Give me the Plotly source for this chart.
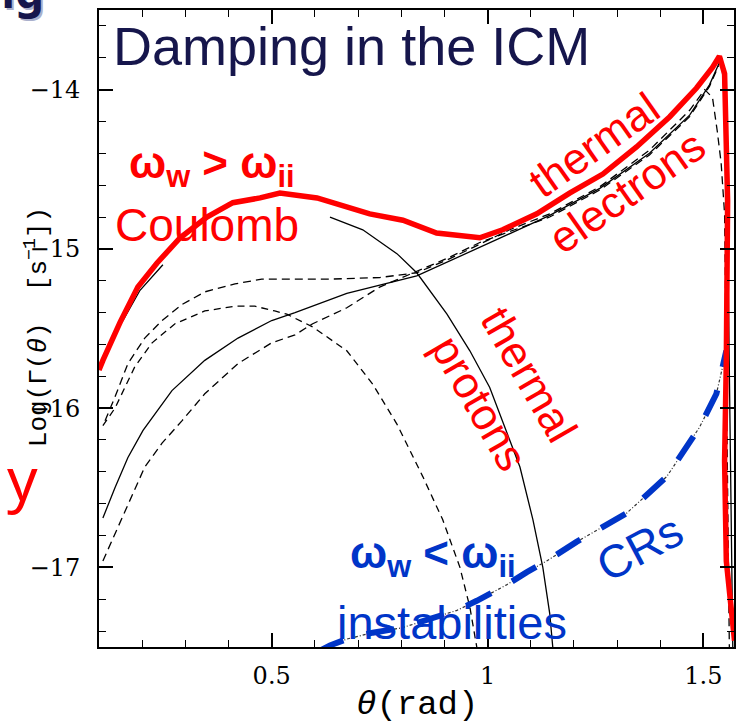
import plotly.graph_objects as go

# ---------------- data ----------------
# thick red envelope (Coulomb + thermal electrons)
red_theta = [0.100, 0.109, 0.149, 0.190, 0.234, 0.288, 0.350, 0.410, 0.473, 0.519, 0.605, 0.681,
             0.727, 0.804, 0.882, 0.982, 1.035, 1.114, 1.190, 1.267, 1.345, 1.422, 1.484, 1.521,
             1.537, 1.549, 1.556, 1.553, 1.549, 1.553, 1.572]
red_logG = [-15.76, -15.70, -15.46, -15.24, -15.09, -14.93, -14.80, -14.71, -14.68, -14.65, -14.68, -14.74,
            -14.78, -14.82, -14.90, -14.93, -14.88, -14.78, -14.65, -14.53, -14.36, -14.17, -13.99, -13.86,
            -13.79, -13.90, -14.70, -15.70, -16.33, -16.96, -17.46]

# thin black solid: Coulomb (short piece at small angles)
coul_theta = [0.100, 0.149, 0.195, 0.248]
coul_logG = [-15.76, -15.48, -15.26, -15.10]

# thin black solid: thermal electrons
elec_theta = [0.109, 0.137, 0.167, 0.202, 0.269, 0.345, 0.422, 0.500, 0.554, 0.674, 0.836, 0.982,
              1.051, 1.144, 1.260, 1.375, 1.468, 1.514, 1.542, 1.551, 1.558, 1.563, 1.568]
elec_logG = [-16.69, -16.50, -16.31, -16.14, -15.89, -15.70, -15.56, -15.45, -15.40, -15.28, -15.17, -14.99,
             -14.90, -14.79, -14.62, -14.40, -14.16, -13.97, -13.80, -14.19, -15.32, -16.58, -17.50]

# thin black dashed: upper flat curve
dashA_theta = [0.114, 0.137, 0.167, 0.206, 0.246, 0.292, 0.345, 0.415, 0.477, 0.554, 0.635, 0.750,
               0.836, 0.906, 0.982, 1.051, 1.144, 1.260, 1.375, 1.468, 1.503, 1.521, 1.532, 1.541,
               1.549, 1.553, 1.560]
dashA_logG = [-16.08, -15.93, -15.72, -15.56, -15.45, -15.35, -15.27, -15.22, -15.19, -15.19, -15.19, -15.18,
              -15.15, -15.07, -14.97, -14.88, -14.78, -14.61, -14.38, -14.13, -14.00, -14.05, -14.26, -14.46,
              -14.78, -15.95, -17.50]

# thin black dashed: lowest rising curve
dashD_theta = [0.109, 0.137, 0.167, 0.206, 0.246, 0.292, 0.345, 0.422, 0.500, 0.554, 0.595, 0.674,
               0.750, 0.836, 0.906, 0.982, 1.051, 1.144, 1.260, 1.375, 1.468, 1.514, 1.535]
dashD_logG = [-16.96, -16.79, -16.60, -16.37, -16.22, -16.08, -15.91, -15.72, -15.59, -15.54, -15.47, -15.37,
              -15.24, -15.14, -15.06, -14.96, -14.89, -14.80, -14.63, -14.41, -14.17, -13.98, -13.85]

# thin black dashed: arch (protons, dashed)
dashB_theta = [0.109, 0.137, 0.183, 0.223, 0.276, 0.345, 0.415, 0.461, 0.507, 0.535, 0.595, 0.674,
               0.734, 0.790, 0.850, 0.896, 0.936, 0.959, 0.975]
dashB_logG = [-16.11, -16.00, -15.74, -15.59, -15.47, -15.39, -15.36, -15.36, -15.39, -15.41, -15.49, -15.64,
              -15.85, -16.10, -16.43, -16.70, -17.00, -17.25, -17.50]

# thin black solid: thermal protons
prot_theta = [0.635, 0.711, 0.790, 0.836, 0.906, 0.959, 1.005, 1.035, 1.075, 1.105, 1.128, 1.144, 1.151]
prot_logG = [-14.80, -14.88, -15.03, -15.15, -15.41, -15.64, -15.87, -16.08, -16.37, -16.70, -17.00, -17.29, -17.50]

# cosmic rays (black dash-dot + blue thick dashes)
cr_theta = [0.607, 0.635, 0.674, 0.734, 0.801, 0.859, 0.929, 0.975, 1.044, 1.091, 1.137, 1.206,
            1.322, 1.415, 1.491, 1.530, 1.553]
cr_logG = [-17.53, -17.49, -17.45, -17.41, -17.38, -17.33, -17.27, -17.21, -17.11, -17.03, -16.96, -16.84,
           -16.66, -16.43, -16.12, -15.91, -15.64]

x_tickvals = [0.5, 1.0, 1.5]
x_ticktext = ["0.5", "1", "1.5"]
y_tickvals = [-14, -15, -16, -17]
y_ticktext = ["\u221214", "\u221215", "\u221216", "\u221217"]

# ---------------- figure ----------------
RED = "#ff0000"
BLUE = "#0035c8"
NAVY = "#16164c"
SANS = "Liberation Sans, Arial, sans-serif"
SERIF = "DejaVu Serif"
MONO = "Liberation Mono, DejaVu Sans Mono, monospace"
TICKSIZE = 24

fig = go.Figure()
thin = 1.3
fig.add_trace(go.Scatter(x=dashB_theta, y=dashB_logG, mode="lines",
                         line=dict(color="black", width=thin, dash="7px,5px")))
fig.add_trace(go.Scatter(x=dashA_theta, y=dashA_logG, mode="lines",
                         line=dict(color="black", width=thin, dash="8px,5px")))
fig.add_trace(go.Scatter(x=dashD_theta, y=dashD_logG, mode="lines",
                         line=dict(color="black", width=thin, dash="8px,5px")))
fig.add_trace(go.Scatter(x=elec_theta, y=elec_logG, mode="lines",
                         line=dict(color="black", width=thin)))
fig.add_trace(go.Scatter(x=prot_theta, y=prot_logG, mode="lines",
                         line=dict(color="black", width=thin)))
fig.add_trace(go.Scatter(x=coul_theta, y=coul_logG, mode="lines",
                         line=dict(color="black", width=thin)))
fig.add_trace(go.Scatter(x=cr_theta, y=cr_logG, mode="lines",
                         line=dict(color="#333333", width=1.2, dash="3px,2px,1px,2px")))
fig.add_trace(go.Scatter(x=cr_theta, y=cr_logG, mode="lines",
                         line=dict(color=BLUE, width=6, dash="28px,24px")))
fig.add_trace(go.Scatter(x=red_theta, y=red_logG, mode="lines",
                         line=dict(color=RED, width=5.5)))


def P(x, y):
    return dict(x=(x - 99) / 637, y=(647 - y) / 637, xref="paper", yref="paper")


def note(text, x, y, size, color, family=SANS, angle=0, xanchor="center", yanchor="middle"):
    fig.add_annotation(text=text, showarrow=False, textangle=angle,
                       xanchor=xanchor, yanchor=yanchor,
                       font=dict(family=family, size=size, color=color), **P(x, y))


note("Damping in the ICM", 352, 46, 54, NAVY)
note("<b>\u03c9<sub>w</sub> > \u03c9<sub>ii</sub></b>", 212, 166, 44, RED)
note("Coulomb", 207, 225, 46, RED)
note("thermal<br>electrons", 612, 168, 44, RED, angle=-35)
note("thermal<br>protons", 506, 389, 44, RED, angle=60)
note("<b>\u03c9<sub>w</sub> < \u03c9<sub>ii</sub></b>", 434, 556, 44, BLUE)
note("instabilities", 453, 622, 47, BLUE)
note("CRs", 641, 548, 46, BLUE, angle=-28)
# fragments of neighbouring slide text
note("<b>ng</b>", 48, 25, 46, "#aab0cc", family="Noto Sans", xanchor="right", yanchor="bottom")
note("<b>ng</b>", 46, 23, 46, NAVY, family="Noto Sans", xanchor="right", yanchor="bottom")
note("y", 40, 478, 60, RED, family="Noto Sans", xanchor="right")
# axis titles
note("Log(\u0393(<i>\u03b8</i>)  [s<sup>\u22121</sup>])", 37, 327, 26, "black", family=MONO, angle=-90)
note("<i>\u03b8</i>(rad)", 418, 705, 34, "black", family=MONO)

axis_common = dict(showgrid=False, zeroline=False, showline=True, linecolor="black", linewidth=2,
                   mirror="ticks", ticks="inside", ticklen=14, tickwidth=1.6, tickcolor="black")

fig.update_xaxes(range=[0.1, 1.5708], tickmode="array", tickvals=x_tickvals, ticktext=x_ticktext,
                 tickfont=dict(family=SERIF, size=TICKSIZE, color="black"),
                 minor=dict(dtick=0.1, tick0=0, ticks="inside", ticklen=7, tickwidth=1.4, tickcolor="black"),
                 ticklabelstandoff=6, **axis_common)
fig.update_yaxes(range=[-17.5, -13.5], tickmode="array", tickvals=y_tickvals, ticktext=y_ticktext,
                 tickfont=dict(family=SERIF, size=TICKSIZE, color="black"),
                 minor=dict(dtick=0.2, tick0=0, ticks="inside", ticklen=7, tickwidth=1.4, tickcolor="black"),
                 ticklabelstandoff=12, **axis_common)

fig.update_layout(width=740, height=724, margin=dict(l=99, r=4, t=10, b=77),
                  font=dict(family=SERIF, size=TICKSIZE, color="black"),
                  paper_bgcolor="white", plot_bgcolor="white", showlegend=False)

fig.write_html("out.html")
